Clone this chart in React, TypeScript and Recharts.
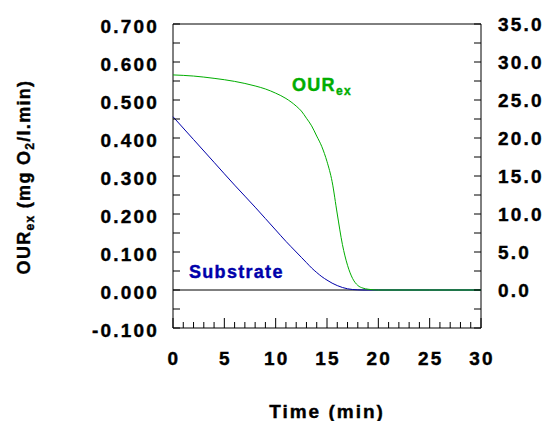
import React from 'react'
import {
  LineChart, Line, XAxis, YAxis, ReferenceArea, ReferenceLine, Customized,
} from 'recharts'

const TIME = [0, 2, 4, 6, 8, 9, 10, 11, 12, 12.5, 13, 13.5, 14, 14.5, 15, 15.5, 16, 16.5, 17, 17.5, 18, 18.5, 19, 20, 25, 30]
// OUR_ex in mg O2/l.min (left axis)
const OUR_EX = [0.566, 0.563, 0.557, 0.549, 0.537, 0.529, 0.518, 0.504, 0.484, 0.471, 0.452, 0.432, 0.405, 0.377, 0.338, 0.285, 0.2, 0.12, 0.065, 0.03, 0.012, 0.005, 0.002, 0, 0, 0]
// substrate (right axis)
const SUBSTRATE = [22.8, 19.8, 16.8, 13.8, 10.9, 9.4, 7.9, 6.4, 5.0, 4.3, 3.6, 2.9, 2.3, 1.75, 1.3, 0.9, 0.58, 0.33, 0.16, 0.06, 0.02, 0, 0, 0, 0, 0]

const X_TICKS = Array.from({ length: 31 }, (_, i) => i)
const LEFT_TICKS = [-0.1, -0.05, 0, 0.05, 0.1, 0.15, 0.2, 0.25, 0.3, 0.35, 0.4, 0.45, 0.5, 0.55, 0.6, 0.65, 0.7]
const RIGHT_TICKS = [-5, -2.5, 0, 2.5, 5, 7.5, 10, 12.5, 15, 17.5, 20, 22.5, 25, 27.5, 30, 32.5, 35]

const FONT = '"Liberation Sans", Arial, Helvetica, sans-serif'
const GREEN = '#00ad00'
const BLUE = '#0000aa'

const data = TIME.map((t, i) => ({ t, our: OUR_EX[i], sub: SUBSTRATE[i] }))

const labelStyle = {
  fontFamily: FONT, fontWeight: 700, fontSize: 19, letterSpacing: 2.2, fill: '#000', stroke: '#000', strokeWidth: 0.4,
}

function XTick({ x, y, payload }: any) {
  const v = payload.value
  const major = v % 5 === 0
  return (
    <g>
      <line x1={x} y1={y} x2={x} y2={y - (major ? 10 : 6)} stroke="#000" />
      {major && (
        <text x={x + 1} y={y + 37} textAnchor="middle" style={labelStyle}>{v}</text>
      )}
    </g>
  )
}

function LeftTick({ x, y, payload }: any) {
  const v = payload.value
  const major = Math.abs(v * 10 - Math.round(v * 10)) < 1e-6
  return (
    <g>
      <line x1={x} y1={y} x2={x + 7} y2={y} stroke="#000" />
      {major && (
        <text x={x - 14} y={y + 9} textAnchor="end" style={labelStyle}>{v.toFixed(3)}</text>
      )}
    </g>
  )
}

function RightTick({ x, y, payload }: any) {
  const v = payload.value
  const major = v >= 0 && v % 5 === 0
  return (
    <g>
      <line x1={x} y1={y} x2={x - 7} y2={y} stroke="#000" />
      {major && (
        <text x={x + 17} y={y + 7} textAnchor="start" style={labelStyle}>{v.toFixed(1)}</text>
      )}
    </g>
  )
}

function Texts() {
  const t = { fontFamily: FONT, fontWeight: 700, strokeWidth: 0.4 }
  return (
    <g>
      <text transform="rotate(-90, 30, 177)" x={30} y={177} textAnchor="middle" stroke="#000" style={{ ...t, fontSize: 18, letterSpacing: 1.3 }}>
        OUR<tspan fontSize={12} dy={4}>ex</tspan>
        <tspan dy={-4}> (mg O</tspan>
        <tspan fontSize={12} dy={4}>2</tspan>
        <tspan dy={-4}>/l.min)</tspan>
      </text>
      <text x={327} y={418} textAnchor="middle" stroke="#000" style={{ ...t, fontSize: 19, letterSpacing: 2 }}>Time (min)</text>
      <text x={292} y={91} fill={GREEN} stroke={GREEN} style={{ ...t, fontSize: 18, letterSpacing: 1.3 }}>
        OUR<tspan fontSize={12} dy={4}>ex</tspan>
      </text>
      <text x={189} y={278} fill={BLUE} stroke={BLUE} style={{ ...t, fontSize: 18, letterSpacing: 1.3 }}>Substrate</text>
    </g>
  )
}

export default function App() {
  return (
    <div style={{ position: 'absolute', left: 0, top: 0, background: '#fff' }}>
      <LineChart width={546} height={421} data={data} margin={{ top: 24, right: 0, bottom: 0, left: 0 }}>
        <XAxis
          dataKey="t" type="number" domain={[0, 30]} ticks={X_TICKS} interval={0}
          height={93} axisLine={false} tickLine={false} tickSize={0} tickMargin={0} tick={<XTick />}
        />
        <YAxis
          yAxisId="left" orientation="left" type="number" domain={[-0.1, 0.7]} ticks={LEFT_TICKS} interval={0}
          width={173} axisLine={false} tickLine={false} tickSize={0} tickMargin={0} tick={<LeftTick />} allowDataOverflow
        />
        <YAxis
          yAxisId="right" orientation="right" type="number" domain={[-5, 35]} ticks={RIGHT_TICKS} interval={0}
          width={65} axisLine={false} tickLine={false} tickSize={0} tickMargin={0} tick={<RightTick />} allowDataOverflow
        />
        <ReferenceArea yAxisId="left" x1={0} x2={30} y1={-0.1} y2={0.7} fill="none" stroke="#000" strokeWidth={1} ifOverflow="visible" />
        <ReferenceLine yAxisId="left" y={0} stroke="#000" strokeWidth={1} />
        <Line yAxisId="right" dataKey="sub" type="monotone" stroke={BLUE} strokeWidth={1} dot={false} isAnimationActive={false} />
        <Line yAxisId="left" dataKey="our" type="monotone" stroke={GREEN} strokeWidth={1} dot={false} isAnimationActive={false} />
        <Customized component={Texts} />
      </LineChart>
    </div>
  )
}
